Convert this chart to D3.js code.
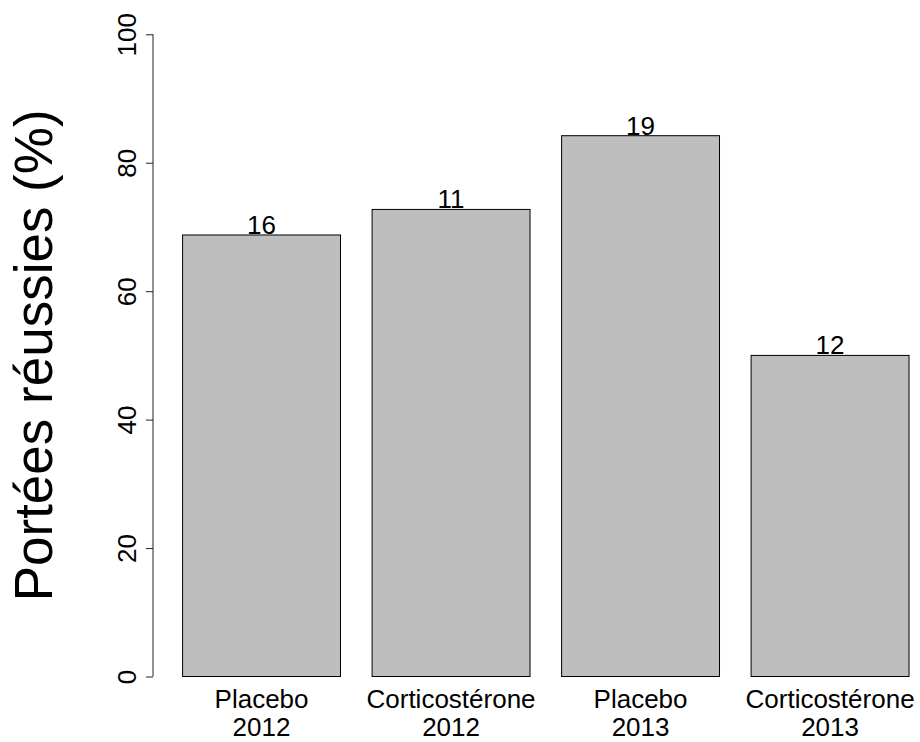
<!DOCTYPE html>
<html>
<head>
<meta charset="utf-8">
<script src="https://cdn.jsdelivr.net/npm/d3@7"></script>
<style>
  body { margin: 0; background: #fff; }
  svg text { font-family: "Liberation Sans", Arial, Helvetica, sans-serif; fill: #000; }
</style>
</head>
<body>
<svg id="plot"></svg>
<script>
// bar data
const groups = ["Placebo\n2012", "Corticostérone\n2012", "Placebo\n2013", "Corticostérone\n2013"];
const success = [68.75, 72.73, 84.21, 50];
const counts = [16, 11, 19, 12];
const yTicks = [0, 20, 40, 60, 80, 100];
const yLabel = "Portées réussies (%)";

const width = 920;
const height = 742;

const svg = d3.select("#plot").attr("width", width).attr("height", height);

const xScale = d3
    .scaleBand()
    .domain(groups)
    .range([151, 940.6])
    .paddingInner(1 / 6)
    .paddingOuter(1 / 6);
const yScale = d3.scaleLinear().domain([0, 100]).range([676.5, 34.3]);

// bars
svg.append("g")
    .selectAll("rect")
    .data(groups)
    .join("rect")
    .attr("x", (d) => xScale(d))
    .attr("y", (d, i) => yScale(success[i]))
    .attr("width", xScale.bandwidth())
    .attr("height", (d, i) => yScale(0) - yScale(success[i]))
    .attr("fill", "#bebebe")
    .attr("stroke", "#000")
    .attr("stroke-width", 1);

// counts above bars
svg.append("g")
    .selectAll("text")
    .data(groups)
    .join("text")
    .attr("x", (d) => xScale(d) + xScale.bandwidth() / 2)
    .attr("y", (d, i) => yScale(success[i]) - 1)
    .attr("text-anchor", "middle")
    .attr("font-size", 26)
    .text((d, i) => counts[i]);

// y axis
const yAxis = d3.axisLeft(yScale).tickValues(yTicks).tickSize(7).tickPadding(0);
const gy = svg.append("g").attr("transform", "translate(153,0)").call(yAxis);
gy.select(".domain")
    .attr("d", `M0,${yScale(0)}V${yScale(100)}`)
    .attr("stroke", "#222");
gy.selectAll(".tick line").attr("stroke", "#222");
gy.selectAll(".tick text")
    .attr("font-size", 26)
    .attr("font-family", "Liberation Sans, Arial, sans-serif")
    .attr("text-anchor", "middle")
    .attr("dy", null)
    .attr("x", null)
    .attr("transform", "translate(-17,0) rotate(-90)");

// x labels (two lines)
const xl = svg.append("g")
    .selectAll("text")
    .data(groups)
    .join("text")
    .attr("text-anchor", "middle")
    .attr("font-size", 26);
xl.each(function (d) {
    const parts = d.split("\n");
    const cx = xScale(d) + xScale.bandwidth() / 2;
    d3.select(this)
        .selectAll("tspan")
        .data(parts)
        .join("tspan")
        .attr("x", cx)
        .attr("y", (p, j) => 708 + j * 28)
        .text((p) => p);
});

// y title
svg.append("text")
    .attr("transform", `translate(52,${(yScale(0) + yScale(100)) / 2}) rotate(-90)`)
    .attr("text-anchor", "middle")
    .attr("font-size", 53)
    .text(yLabel);
</script>
</body>
</html>
